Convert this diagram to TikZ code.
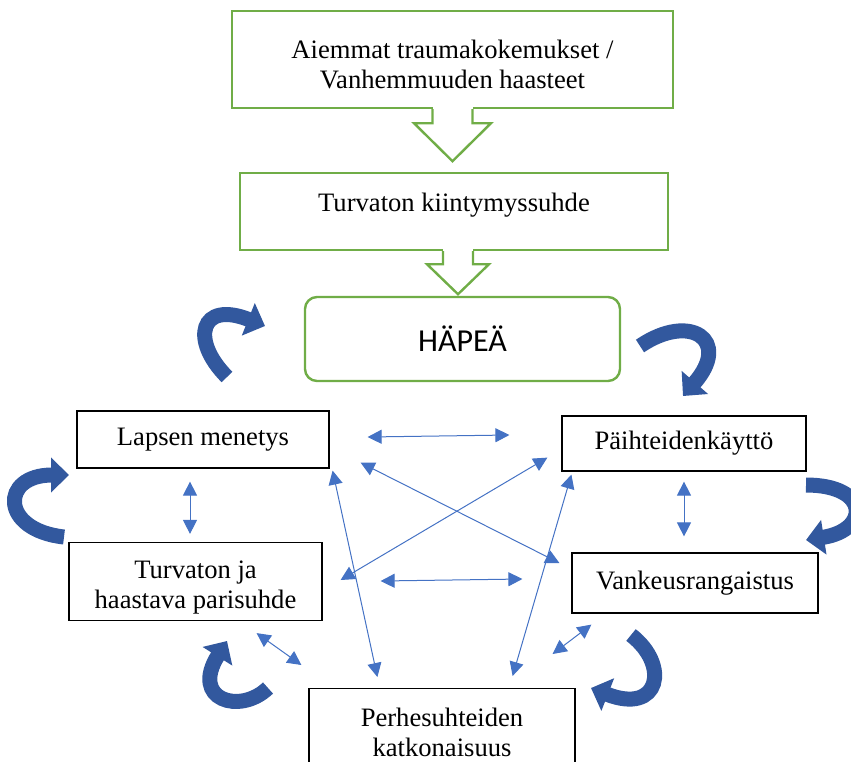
\documentclass[tikz,border=0pt]{standalone}
\usepackage{fontspec}
\setmainfont{Liberation Serif}
\newfontfamily\calibrifont{Carlito}
\usetikzlibrary{arrows.meta}
\definecolor{vihrea}{RGB}{112,173,71}
\definecolor{sininen}{RGB}{68,114,196}
\definecolor{tummasininen}{RGB}{50,88,158}
\tikzset{
  greenbox/.style = {draw=vihrea, line width=1.2pt, fill=white, align=center, font=\fontsize{13.3}{15}\selectfont},
  plainbox/.style = {draw=black, line width=.6pt, align=center, font=\fontsize{13.3}{15}\selectfont},
  twoway/.style = {sininen, line width=.5pt, >={Triangle[length=7pt,width=7pt]}, <->},
  cyclearrow/.style = {tummasininen, line width=7.5pt, >={Triangle[length=9pt,width=17pt]}, ->},
}
\begin{document}
\begin{tikzpicture}[x = .5pt, y = -.5pt]
  \useasboundingbox (0,0) rectangle (851,761);
  \clip (0,0) rectangle (851,761);
  \node[greenbox, minimum width = 220.5pt, minimum height = 48.5pt] (aiemmat) at (452.5,59.5) {\rule{0pt}{14pt}Aiemmat traumakokemukset /\\Vanhemmuuden haasteet};
  \fill[white] (aiemmat.south) ++(-20,-3) rectangle ++(40,6);
  \draw[vihrea, line width = 1.2pt] (aiemmat.south) ++(-20,0) -- ++(0,14) -- ++(-18.5,0) -- ++(38.5,38) -- ++(38.5,-38) -- ++(-18.5,0) -- ++(0,-14);
  \node[greenbox, minimum width = 214pt, minimum height = 38.5pt, text height = 14.5pt, text depth = 14.5pt] (kiintymys) at (454,211.5) {Turvaton kiintymyssuhde};
  \fill[white] (kiintymys.south) ++(-11,-3) rectangle ++(30,6);
  \draw[vihrea, line width = 1.2pt] (kiintymys.south) ++(-11,0) -- ++(0,13) -- ++(-16,0) -- ++(31,30) -- ++(31,-30) -- ++(-16,0) -- ++(0,-13);
  \node[greenbox, rounded corners = 6pt, minimum width = 157.5pt, minimum height = 42pt, font = \calibrifont\fontsize{16}{19}\selectfont] (hapea) at (462.5,339) {\raisebox{-2pt}{HÄPEÄ}};

  \node[plainbox, minimum width = 126pt, minimum height = 28.5pt] (lapsen) at (203,439.5) {Lapsen menetys};
  \node[plainbox, minimum width = 126.5pt, minimum height = 38.5pt] (parisuhde) at (195.5,581.5) {\rule{0pt}{14.5pt}Turvaton ja\\haastava parisuhde};
  \node[plainbox, minimum width = 122pt, minimum height = 27.5pt] (paihteet) at (684,443.5) {Päihteidenkäyttö};
  \node[plainbox, minimum width = 123pt, minimum height = 30pt] (vankeus) at (695,583) {Vankeusrangaistus};
  \node[plainbox, anchor = north, minimum width = 133pt, minimum height = 44pt] (perhe) at (442,688) {Perhesuhteiden\\katkonaisuus};

  \draw[twoway] ([shift={(38,-2.5)}]lapsen.east) -- ([shift={(-52,-8.5)}]paihteet.west);
  \draw[twoway] ([shift={(-13,13)}]lapsen.south) -- ([shift={(-5.5,-8)}]parisuhde.north);
  \draw[twoway] ([shift={(0,10)}]paihteet.south) -- ([shift={(-11,-16)}]vankeus.north);
  \draw[twoway] ([shift={(58,-0.5)}]parisuhde.east) -- ([shift={(-49,-4)}]vankeus.west);
  \draw[twoway] ([shift={(-66,12)}]parisuhde.south east) -- ([shift={(-7,-23)}]perhe.north west);
  \draw[twoway] ([shift={(-23,-34)}]perhe.north east) -- ([shift={(20,11)}]vankeus.south west);
  \draw[twoway] ([shift={(31,-6)}]lapsen.south east) -- ([shift={(-12,-20)}]vankeus.west);
  \draw[twoway] ([shift={(-14,-14)}]paihteet.south west) -- ([shift={(18,-1.5)}]parisuhde.east);
  \draw[twoway] ([shift={(3,2)}]lapsen.south east) -- ([shift={(69,-11)}]perhe.north west);
  \draw[twoway] ([shift={(10,3)}]paihteet.south west) -- ([shift={(-63,-12)}]perhe.north east);

  \draw[cyclearrow] (227,377) .. controls (190,340) and (200,300) .. (265,326);
  \draw[cyclearrow] (640,346) .. controls (690,312) and (732,340) .. (683,396);
  \draw[cyclearrow] (64,537) .. controls (0,530) and (0,475) .. (69,475);
  \draw[cyclearrow] (806,485) .. controls (870,485) and (870,530) .. (806,540);
  \draw[cyclearrow] (268,688) .. controls (240,715) and (190,700) .. (227,641);
  \draw[cyclearrow] (631,635) .. controls (670,665) and (660,715) .. (591,688);
\end{tikzpicture}
\end{document}
